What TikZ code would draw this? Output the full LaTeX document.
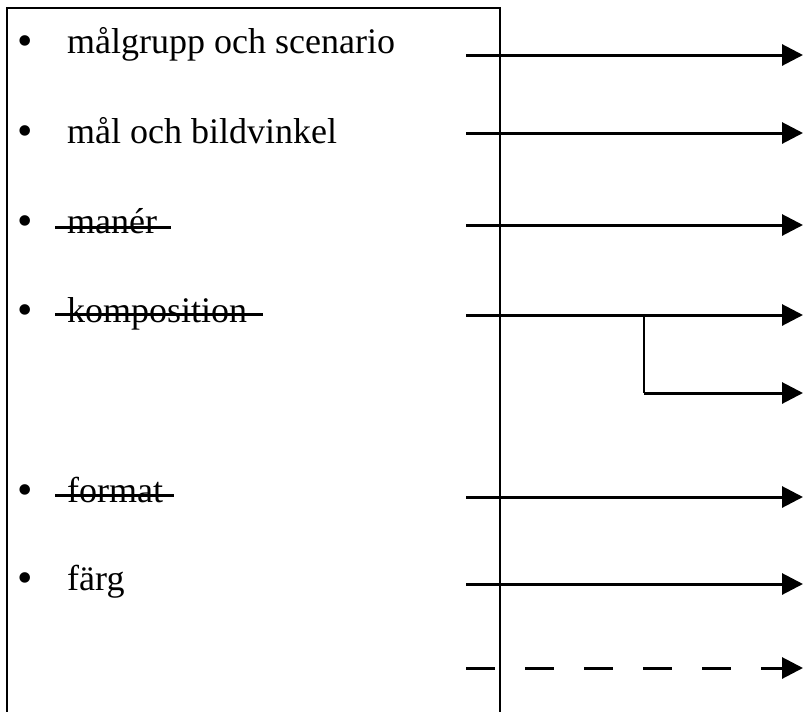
\documentclass[tikz,border=0pt]{standalone}
\usepackage{fontspec}
\setmainfont{Liberation Serif}
\usetikzlibrary{arrows.meta}

\begin{document}
\begin{tikzpicture}[x=1pt, y=-1pt,
  item/.style={anchor=base west, inner sep=0pt, font=\fontsize{36}{40}\selectfont},
  dot/.style={anchor=base west, inner sep=0pt, font=\fontsize{44}{48}\selectfont},
  arr/.style={-{Triangle[length=21pt, width=21pt]}, line width=3pt},
  dasharr/.style={arr, dash pattern=on 29pt off 30pt},
  strike/.style={line width=3pt},
  frame/.style={line width=2pt},
  thinline/.style={line width=1.6pt},
]
\useasboundingbox (0,0) rectangle (804,712);
\draw[frame] (7,712) -- (7,8) -- (500,8) -- (500,712);

\node[dot] (b1) at (17,55)  {•};
\node[dot] (b2) at (17,145) {•};
\node[dot] (b3) at (17,235) {•};
\node[dot] (b4) at (17,324) {•};
\node[dot] (b5) at (17,504) {•};
\node[dot] (b6) at (17,592) {•};

\node[item] (t1) at (67,53)  {målgrupp och scenario};
\node[item] (t2) at (67,143) {mål och bildvinkel};
\node[item] (t3) at (67,233) {manér};
\node[item] (t4) at (67,322) {komposition};
\node[item] (t5) at (67,502) {format};
\node[item] (t6) at (67,590) {färg};

\draw[strike] ([shift={(-12,-6)}]t3.base west) -- ([shift={(14,-6)}]t3.base east);
\draw[strike] ([shift={(-12,-8)}]t4.base west) -- ([shift={(16,-8)}]t4.base east);
\draw[strike] ([shift={(-12,-7)}]t5.base west) -- ([shift={(11,-7)}]t5.base east);

\coordinate (s1) at (466,55);  \coordinate (e1) at (803,55);
\coordinate (s2) at (466,133); \coordinate (e2) at (803,133);
\coordinate (s3) at (466,225); \coordinate (e3) at (803,225);
\coordinate (s4) at (466,315); \coordinate (e4) at (803,315);
\coordinate (br) at (644,315); \coordinate (bc) at (644,393);
\coordinate (e5) at (803,393);
\coordinate (s6) at (466,497); \coordinate (e6) at (803,497);
\coordinate (s7) at (466,584); \coordinate (e7) at (803,584);
\coordinate (s8) at (466,668); \coordinate (e8) at (803,668);

\draw[arr] (s1) -- (e1);
\draw[arr] (s2) -- (e2);
\draw[arr] (s3) -- (e3);
\draw[arr] (s4) -- (e4);
\draw[thinline] (br) -- (bc);
\draw[arr] (bc) -- (e5);
\draw[arr] (s6) -- (e6);
\draw[arr] (s7) -- (e7);
\draw[dasharr] (s8) -- (e8);
\end{tikzpicture}
\end{document}
